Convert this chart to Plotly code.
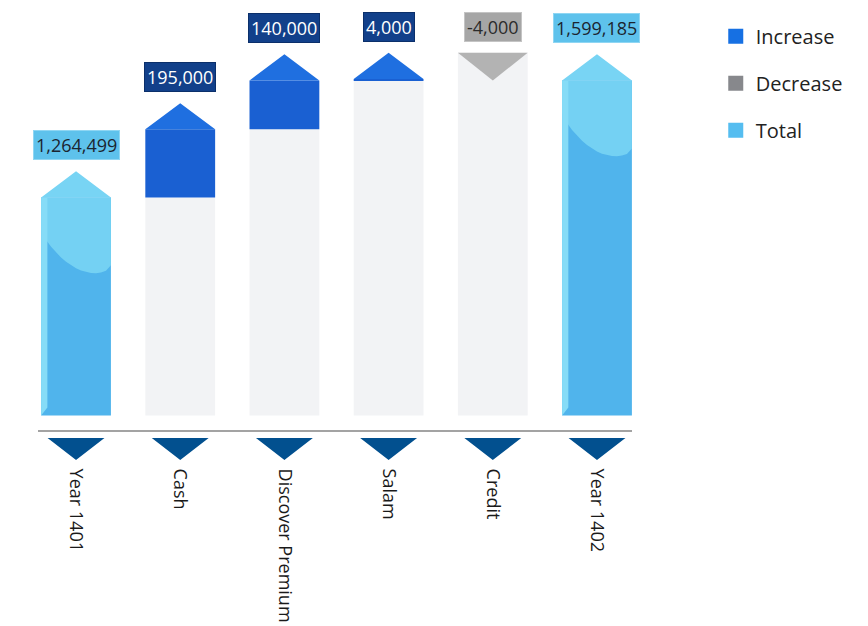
import numpy as np
import plotly.graph_objects as go

# ---- data ----
categories = ["Year 1401", "Cash", "Discover Premium", "Salam", "Credit", "Year 1402"]
values = [1264499, 195000, 140000, 4000, -4000, 1599185]
kinds = ["total", "increase", "increase", "increase", "decrease", "total"]
legend_names = ["Increase", "Decrease", "Total"]

# ---- styling constants ----
BASE = 640000          # hidden baseline of the value axis
K = 2860               # value units per pixel
TIP = 75000            # decorative arrow-tip height (value units)
W = 0.67               # bar width
FONT = "Open Sans"

C_INC = "#1a60d2"; C_INC_TIP = "#1f6fe0"
C_TOT = "#50b4ec"; C_TOT_TIP = "#78d4f4"; C_TOT_GLOSS = "#74d1f3"; C_TOT_EDGE = "#86dcf7"
C_DEC = "#b3b3b3"
C_COL = "#f2f3f5"

idx = list(range(len(categories)))

# compute waterfall geometry from the data
running = 0
rows = []
for i, (v, k) in enumerate(zip(values, kinds)):
    if k == "total":
        rows.append(dict(i=i, kind=k, lo=BASE, hi=v, peak=v + TIP))
        running = v
    elif k == "increase":
        rows.append(dict(i=i, kind=k, lo=running, hi=running + v, peak=running + v + TIP))
        running += v
    else:
        rows.append(dict(i=i, kind=k, lo=running + v, hi=running, peak=running + TIP))
        running += v

fig = go.Figure()

# light grey columns under floating bars
col = [r for r in rows if r["kind"] != "total"]
fig.add_trace(go.Bar(
    x=[r["i"] for r in col],
    base=[BASE] * len(col),
    y=[(r["lo"] if r["kind"] == "increase" else r["peak"]) - BASE for r in col],
    width=W, marker=dict(color=C_COL, line=dict(width=0)),
    showlegend=False, hoverinfo="skip"))

# increase blocks
inc = [r for r in rows if r["kind"] == "increase"]
fig.add_trace(go.Bar(
    x=[r["i"] for r in inc], base=[r["lo"] for r in inc],
    y=[r["hi"] - r["lo"] for r in inc],
    width=W, marker=dict(color=C_INC, line=dict(width=0)),
    showlegend=False))

# total bars
tot = [r for r in rows if r["kind"] == "total"]
fig.add_trace(go.Bar(
    x=[r["i"] for r in tot], base=[BASE] * len(tot),
    y=[r["hi"] - BASE for r in tot],
    width=W, marker=dict(color=C_TOT, line=dict(width=0)),
    showlegend=False))


def polys(items, fn):
    xs, ys = [], []
    for r in items:
        px, py = fn(r)
        xs += list(px) + [None]
        ys += list(py) + [None]
    return xs, ys


# gloss on totals (upper lighter region with curved lower edge)
G = 80 * K
def gloss(r):
    i, hi = r["i"], r["hi"]
    t = np.linspace(0, 1, 15)
    bx = i + W / 2 - t * W
    by = hi - G * (0.85 + 0.15 * np.sin(np.pi * (1 - t)) ** 0.5) + G * 0.45 * t ** 2
    px = [i - W / 2, i + W / 2] + list(bx)
    py = [hi, hi] + list(by)
    return px, py
gx, gy = polys(tot, gloss)
fig.add_trace(go.Scatter(x=gx, y=gy, fill="toself", mode="lines", line=dict(width=0),
                         fillcolor=C_TOT_GLOSS, showlegend=False, hoverinfo="skip"))

# left bevel edge on totals
def edge(r):
    i = r["i"]
    return ([i - W / 2, i - W / 2 + 0.06, i - W / 2 + 0.06, i - W / 2],
            [BASE, BASE + 8 * K, r["hi"], r["hi"]])
ex, ey = polys(tot, edge)
fig.add_trace(go.Scatter(x=ex, y=ey, fill="toself", mode="lines", line=dict(width=0),
                         fillcolor=C_TOT_EDGE, showlegend=False, hoverinfo="skip"))

# arrow tips
def tip(r):
    i = r["i"]
    return [i - W / 2, i, i + W / 2], [r["hi"], r["peak"], r["hi"]]
tx, ty = polys(tot, tip)
fig.add_trace(go.Scatter(x=tx, y=ty, fill="toself", mode="lines", line=dict(width=0),
                         fillcolor=C_TOT_TIP, showlegend=False, hoverinfo="skip"))
ix, iy = polys(inc, tip)
fig.add_trace(go.Scatter(x=ix, y=iy, fill="toself", mode="lines", line=dict(width=0),
                         fillcolor=C_INC_TIP, showlegend=False, hoverinfo="skip"))

# decrease inverted triangle
dec = [r for r in rows if r["kind"] == "decrease"]
def dtri(r):
    i = r["i"]
    return [i - W / 2, i + W / 2, i], [r["peak"], r["peak"], r["lo"]]
dx, dy = polys(dec, dtri)
fig.add_trace(go.Scatter(x=dx, y=dy, fill="toself", mode="lines", line=dict(width=0),
                         fillcolor=C_DEC, showlegend=False, hoverinfo="skip"))

# category markers below the axis (strip subplot)
mx, my = [], []
for i in idx:
    mx += [i - 0.273, i + 0.273, i, None]
    my += [1, 1, 0, None]
fig.add_trace(go.Scatter(x=mx, y=my, fill="toself", mode="lines", line=dict(width=0),
                         fillcolor="#02508f", xaxis="x2", yaxis="y2",
                         showlegend=False, hoverinfo="skip"))

# legend-only entries
for name, c in zip(legend_names, ["#1670e3", "#87888c", "#55bdf0"]):
    fig.add_trace(go.Scatter(x=[None], y=[None], mode="markers", name=name,
                             legendgroup=name,
                             marker=dict(symbol="square", size=15, color=c)))

# value labels
for r, v in zip(rows, values):
    if r["kind"] == "total":
        bg, fc, bc = "#5ec2ec", "#1b2530", "#8fd6f3"
    elif r["kind"] == "increase":
        bg, fc, bc = "#12408a", "#ffffff", "#0b2f6a"
    else:
        bg, fc, bc = "#a6a6a6", "#2b2b2b", "#c4c4c4"
    fig.add_annotation(x=r["i"], y=r["peak"], text=f"{v:,}", showarrow=False,
                       yanchor="bottom", yshift=11, bgcolor=bg, bordercolor=bc,
                       borderwidth=1, borderpad=2,
                       font=dict(family=FONT, size=18, color=fc))

fig.update_layout(
    width=868, height=626,
    margin=dict(l=38, r=236, t=10, b=166, autoexpand=False),
    paper_bgcolor="white", plot_bgcolor="white",
    barmode="overlay",
    font=dict(family=FONT, color="#222"),
    xaxis=dict(range=[-0.365, 5.336], showline=True, linecolor="#a3a3a3", linewidth=2,
               showgrid=False, zeroline=False, showticklabels=False, ticks="",
               anchor="y", fixedrange=True, automargin=False),
    yaxis=dict(range=[BASE - 14.5 * K, BASE + 406 * K], domain=[30 / 450, 1],
               visible=False, fixedrange=True),
    xaxis2=dict(matches="x", anchor="y2", tickmode="array", tickvals=idx,
                ticktext=categories, tickangle=90, showgrid=False, zeroline=False,
                showline=False, ticks="outside", ticklen=4, tickcolor="rgba(0,0,0,0)",
                automargin=False,
                tickfont=dict(family=FONT, size=18, color="#1a1a1a")),
    yaxis2=dict(range=[0, 1], domain=[0, 22 / 450], visible=False, fixedrange=True),
    legend=dict(x=1.141, y=0.985, xanchor="left", yanchor="top",
                font=dict(family=FONT, size=20, color="#222"),
                tracegroupgap=18, bgcolor="rgba(0,0,0,0)"),
)

fig.write_html("out.html")
